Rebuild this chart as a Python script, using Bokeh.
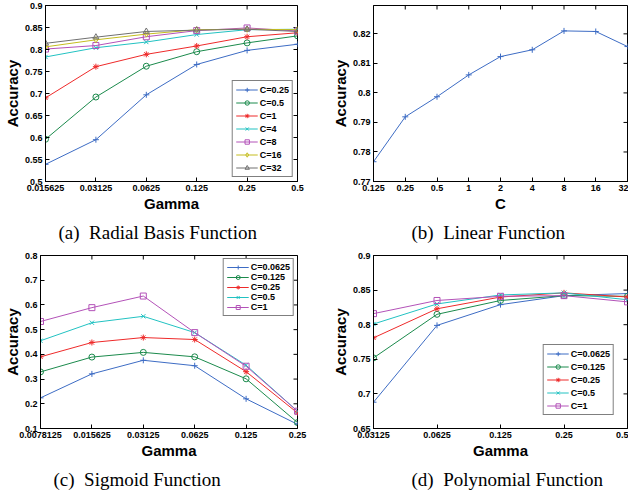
import math
from bokeh.plotting import figure
from bokeh.layouts import column, row
from bokeh.models import FixedTicker, PrintfTickFormatter, Title
from bokeh.embed import file_html
from bokeh.resources import INLINE

# ---------------- data ----------------
# (a) Radial Basis Function
rbf_gamma = [0.015625, 0.03125, 0.0625, 0.125, 0.25, 0.5]
rbf_labels = ["C=0.25", "C=0.5", "C=1", "C=4", "C=8", "C=16", "C=32"]
rbf_c0_25 = [0.539, 0.595, 0.697, 0.766, 0.798, 0.812]
rbf_c0_5 = [0.596, 0.692, 0.762, 0.795, 0.815, 0.831]
rbf_c1 = [0.690, 0.761, 0.789, 0.808, 0.829, 0.838]
rbf_c4 = [0.783, 0.804, 0.817, 0.834, 0.845, 0.846]
rbf_c8 = [0.801, 0.809, 0.829, 0.843, 0.849, 0.842]
rbf_c16 = [0.806, 0.822, 0.835, 0.845, 0.846, 0.845]
rbf_c32 = [0.814, 0.828, 0.841, 0.844, 0.846, 0.841]
rbf_yticks = [0.5, 0.55, 0.6, 0.65, 0.7, 0.75, 0.8, 0.85, 0.9]

# (b) Linear Function
lin_c = [0.125, 0.25, 0.5, 1, 2, 4, 8, 16, 32]
lin_acc = [0.7767, 0.7919, 0.7987, 0.8061, 0.8123, 0.8146, 0.8210, 0.8208, 0.8157]
lin_yticks = [0.77, 0.78, 0.79, 0.8, 0.81, 0.82]

# (c) Sigmoid Function
sig_gamma = [0.0078125, 0.015625, 0.03125, 0.0625, 0.125, 0.25]
sig_labels = ["C=0.0625", "C=0.125", "C=0.25", "C=0.5", "C=1"]
sig_c0_0625 = [0.224, 0.321, 0.376, 0.354, 0.220, 0.117]
sig_c0_125 = [0.329, 0.389, 0.408, 0.390, 0.301, 0.124]
sig_c0_25 = [0.390, 0.448, 0.468, 0.460, 0.330, 0.163]
sig_c0_5 = [0.455, 0.528, 0.554, 0.488, 0.356, 0.170]
sig_c1 = [0.533, 0.589, 0.636, 0.488, 0.352, 0.170]
sig_yticks = [0.1, 0.2, 0.3, 0.4, 0.5, 0.6, 0.7, 0.8]

# (d) Polynomial Function
poly_gamma = [0.03125, 0.0625, 0.125, 0.25, 0.5]
poly_labels = ["C=0.0625", "C=0.125", "C=0.25", "C=0.5", "C=1"]
poly_c0_0625 = [0.688, 0.799, 0.829, 0.842, 0.845]
poly_c0_125 = [0.752, 0.815, 0.835, 0.842, 0.841]
poly_c0_25 = [0.781, 0.823, 0.840, 0.846, 0.840]
poly_c0_5 = [0.801, 0.830, 0.843, 0.846, 0.836]
poly_c1 = [0.816, 0.835, 0.841, 0.842, 0.833]
poly_yticks = [0.65, 0.7, 0.75, 0.8, 0.85, 0.9]

# ---------------- styles ----------------
BLUE = "#3D6CC4"
GREEN = "#1B8A4C"
RED = "#EE2A2A"
CYAN = "#22C2C2"
MAGENTA = "#B352B8"
YELLOW = "#C5BD1F"
GRAY = "#707070"

SANS = "Liberation Sans"
SERIF = "Liberation Serif"


def style_axis(ax, ticks):
    ax.ticker = FixedTicker(ticks=ticks)
    ax.formatter = PrintfTickFormatter(format="%g")
    ax.major_tick_in = 4
    ax.major_tick_out = 0
    ax.minor_tick_line_color = None
    ax.axis_line_color = "black"
    ax.major_tick_line_color = "black"
    ax.major_label_text_font = SANS
    ax.major_label_text_font_style = "bold"
    ax.major_label_text_color = "black"
    ax.major_label_text_font_size = "9px"
    ax.major_label_standoff = 3
    ax.axis_label_text_font = SANS
    ax.axis_label_text_font_style = "bold"
    ax.axis_label_text_font_size = "15px"
    ax.axis_label_text_color = "black"
    ax.axis_label_standoff = 1


def make_fig(w, h, xr, yr, xticks, yticks, xlabel, caption, cap_offset, borders):
    p = figure(width=w, height=h, x_axis_type="log", x_range=xr, y_range=yr,
               output_backend="svg", toolbar_location=None, title=None,
               min_border_left=borders[0], min_border_right=borders[1],
               min_border_top=borders[2], min_border_bottom=borders[3])
    p.outline_line_color = "black"
    p.outline_line_width = 1
    p.xgrid.visible = False
    p.ygrid.visible = False
    p.background_fill_color = "white"
    p.border_fill_color = "white"
    style_axis(p.xaxis[0], xticks)
    style_axis(p.yaxis[0], yticks)
    p.xaxis[0].axis_label = xlabel
    p.yaxis[0].axis_label = "Accuracy"
    # mirrored inward ticks on the top and right edges of the box
    p.scatter(xticks, [yr[1]] * len(xticks), marker="dash", angle=math.pi / 2,
              size=8, line_color="black", line_width=1)
    p.scatter([xr[1]] * len(yticks), yticks, marker="dash",
              size=8, line_color="black", line_width=1)
    t = Title(text=caption, align="left", text_font=SERIF, text_font_size="19px",
              text_font_style="normal", text_color="black", offset=cap_offset, standoff=10)
    p.add_layout(t, "below")
    return p


def add_series(p, xs, ys, color, marker, label):
    p.line(xs, ys, line_color=color, line_width=1, legend_label=label)
    fill = color if marker in ("asterisk", "cross", "x") else None
    p.scatter(xs, ys, marker=marker, size=6, line_color=color, fill_color=fill,
              line_width=1, legend_label=label)


def style_legend(p, loc, row_h=11, spacing=2, margin=4):
    lg = p.legend[0]
    lg.location = loc
    lg.border_line_color = "black"
    lg.border_line_width = 1
    lg.background_fill_color = "white"
    lg.background_fill_alpha = 1
    lg.label_text_font = SANS
    lg.label_text_font_style = "bold"
    lg.label_text_font_size = "9px"
    lg.label_text_color = "black"
    lg.glyph_width = 22
    lg.glyph_height = row_h
    lg.label_height = row_h
    lg.label_standoff = 2
    lg.spacing = spacing
    lg.padding = 3
    lg.margin = margin


ROW1_H = 250
ROW2_H = 244
LEFT_W = 328
RIGHT_W = 300

# (a)
pa = make_fig(LEFT_W, ROW1_H, (0.015625, 0.5), (0.5, 0.9), rbf_gamma, rbf_yticks,
              "Gamma", "(a)\u00a0 Radial Basis Function", 13, (40, 31, 5, 69))
add_series(pa, rbf_gamma, rbf_c0_25, BLUE, "cross", rbf_labels[0])
add_series(pa, rbf_gamma, rbf_c0_5, GREEN, "circle", rbf_labels[1])
add_series(pa, rbf_gamma, rbf_c1, RED, "asterisk", rbf_labels[2])
add_series(pa, rbf_gamma, rbf_c4, CYAN, "x", rbf_labels[3])
add_series(pa, rbf_gamma, rbf_c8, MAGENTA, "square", rbf_labels[4])
add_series(pa, rbf_gamma, rbf_c16, YELLOW, "diamond", rbf_labels[5])
add_series(pa, rbf_gamma, rbf_c32, GRAY, "triangle", rbf_labels[6])
style_legend(pa, "bottom_right")

# (b)
pb = make_fig(RIGHT_W, ROW1_H, (0.125, 32), (0.77, 0.8296), lin_c, lin_yticks,
              "C", "(b)\u00a0 Linear Function", 38, (41, 1, 5, 69))
pb.line(lin_c, lin_acc, line_color=BLUE, line_width=1)
pb.scatter(lin_c, lin_acc, marker="cross", size=6, line_color=BLUE, line_width=1)

# (c)
pc = make_fig(LEFT_W, ROW2_H, (0.0078125, 0.25), (0.1, 0.8), sig_gamma, sig_yticks,
              "Gamma", "(c)\u00a0 Sigmoid Function", 13, (40, 31, 5, 63))
add_series(pc, sig_gamma, sig_c0_0625, BLUE, "cross", sig_labels[0])
add_series(pc, sig_gamma, sig_c0_125, GREEN, "circle", sig_labels[1])
add_series(pc, sig_gamma, sig_c0_25, RED, "asterisk", sig_labels[2])
add_series(pc, sig_gamma, sig_c0_5, CYAN, "x", sig_labels[3])
add_series(pc, sig_gamma, sig_c1, MAGENTA, "square", sig_labels[4])
style_legend(pc, "top_right", row_h=10, spacing=0, margin=3)

# (d)
pd_ = make_fig(RIGHT_W, ROW2_H, (0.03125, 0.5), (0.65, 0.9), poly_gamma, poly_yticks,
               "Gamma", "(d)\u00a0 Polynomial Function", 38, (41, 1, 5, 63))
add_series(pd_, poly_gamma, poly_c0_0625, BLUE, "cross", poly_labels[0])
add_series(pd_, poly_gamma, poly_c0_125, GREEN, "circle", poly_labels[1])
add_series(pd_, poly_gamma, poly_c0_25, RED, "asterisk", poly_labels[2])
add_series(pd_, poly_gamma, poly_c0_5, CYAN, "x", poly_labels[3])
add_series(pd_, poly_gamma, poly_c1, MAGENTA, "square", poly_labels[4])
style_legend(pd_, "bottom_right", row_h=11, spacing=2, margin=13)

layout = column(row(pa, pb), row(pc, pd_))

open("out.html", "w").write(file_html(layout, INLINE))
